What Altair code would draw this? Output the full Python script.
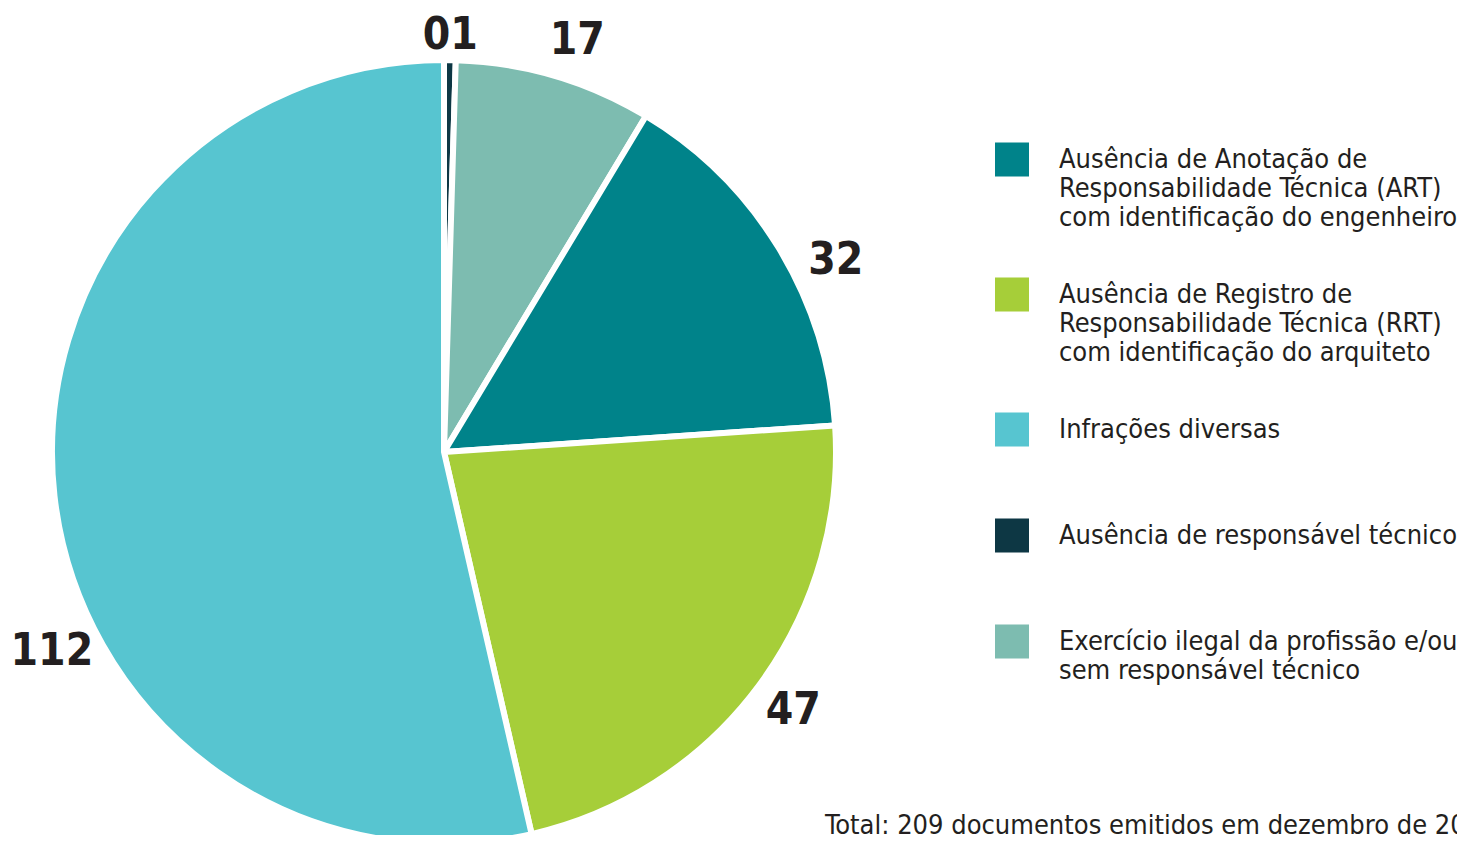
import altair as alt
import pandas as pd

# ---- data ----
categories = [
    "Ausência de responsável técnico",
    "Exercício ilegal da profissão e/ou|sem responsável técnico",
    "Ausência de Anotação de|Responsabilidade Técnica (ART)|com identificação do engenheiro",
    "Ausência de Registro de|Responsabilidade Técnica (RRT)|com identificação do arquiteto",
    "Infrações diversas",
]
values = [1, 17, 32, 47, 112]
value_labels = ["01", "17", "32", "47", "112"]
colors = ["#0d3744", "#7dbcb0", "#00838a", "#a6ce39", "#57c5d0"]
legend_order = [2, 3, 4, 0, 1]
total_text = ["Total: 209 documentos emitidos em dezembro de 20"]

# label placement style (radius in px, angular nudge in radians)
label_radius = [416, 432, 436, 435, 440]
label_nudge = [0.0, 0.028, 0.094, 0.0, -0.358]

FONT = "Liberation Sans Narrow, DejaVu Sans Condensed, sans-serif"
TXT = "#231f20"

df = pd.DataFrame({
    "categoria": categories,
    "valor": values,
    "rotulo": value_labels,
    "ordem": list(range(len(values))),
})

color_scale = alt.Scale(
    domain=[categories[i] for i in legend_order],
    range=[colors[i] for i in legend_order],
)

legend = alt.Legend(
    title=None,
    orient="none",
    direction="vertical",
    legendX=987,
    legendY=122,
    padding=0,
    symbolType="M-1,-0.26H1V1.74H-1Z",
    symbolSize=1156,
    symbolStrokeWidth=0,
    symbolOpacity=1,
    labelFont=FONT,
    labelFontSize=27,
    labelColor=TXT,
    labelLimit=700,
    labelOffset=30,
    labelBaseline="top",
    rowPadding=34,
    labelExpr="length(split(datum.label, '|')) > 1 ? split(datum.label, '|') : [datum.label, '']",
)

CX, CY = 436, 444

base = alt.Chart(df).encode(
    theta=alt.Theta("valor:Q", stack=True),
    order=alt.Order("ordem:Q"),
    x=alt.value(CX),
    y=alt.value(CY),
)

arc = base.mark_arc(radius=392, stroke="white", strokeWidth=6).encode(
    color=alt.Color("categoria:N", scale=color_scale, legend=legend)
)

layers = [arc]
for lab, r, nudge in zip(value_labels, label_radius, label_nudge):
    kw = dict(font=FONT, fontSize=44, fontWeight="bold", color=TXT,
              align="center", baseline="middle", radius=r)
    if nudge:
        kw["thetaOffset"] = nudge
    layers.append(
        base.mark_text(**kw)
        .transform_calculate(t=f"datum.rotulo == '{lab}' ? datum.rotulo : ''")
        .encode(text="t:N")
    )

total = alt.Chart(pd.DataFrame({"t": total_text})).mark_text(
    font=FONT, fontSize=27, color=TXT, align="left", baseline="alphabetic"
).encode(text="t:N", x=alt.value(817), y=alt.value(826))
layers.append(total)

chart = alt.layer(*layers).properties(
    width=1449, height=827, autosize="none", padding=0
).configure_view(stroke=None)

chart.save("out.html", embed_options={"renderer": "svg", "actions": False})
